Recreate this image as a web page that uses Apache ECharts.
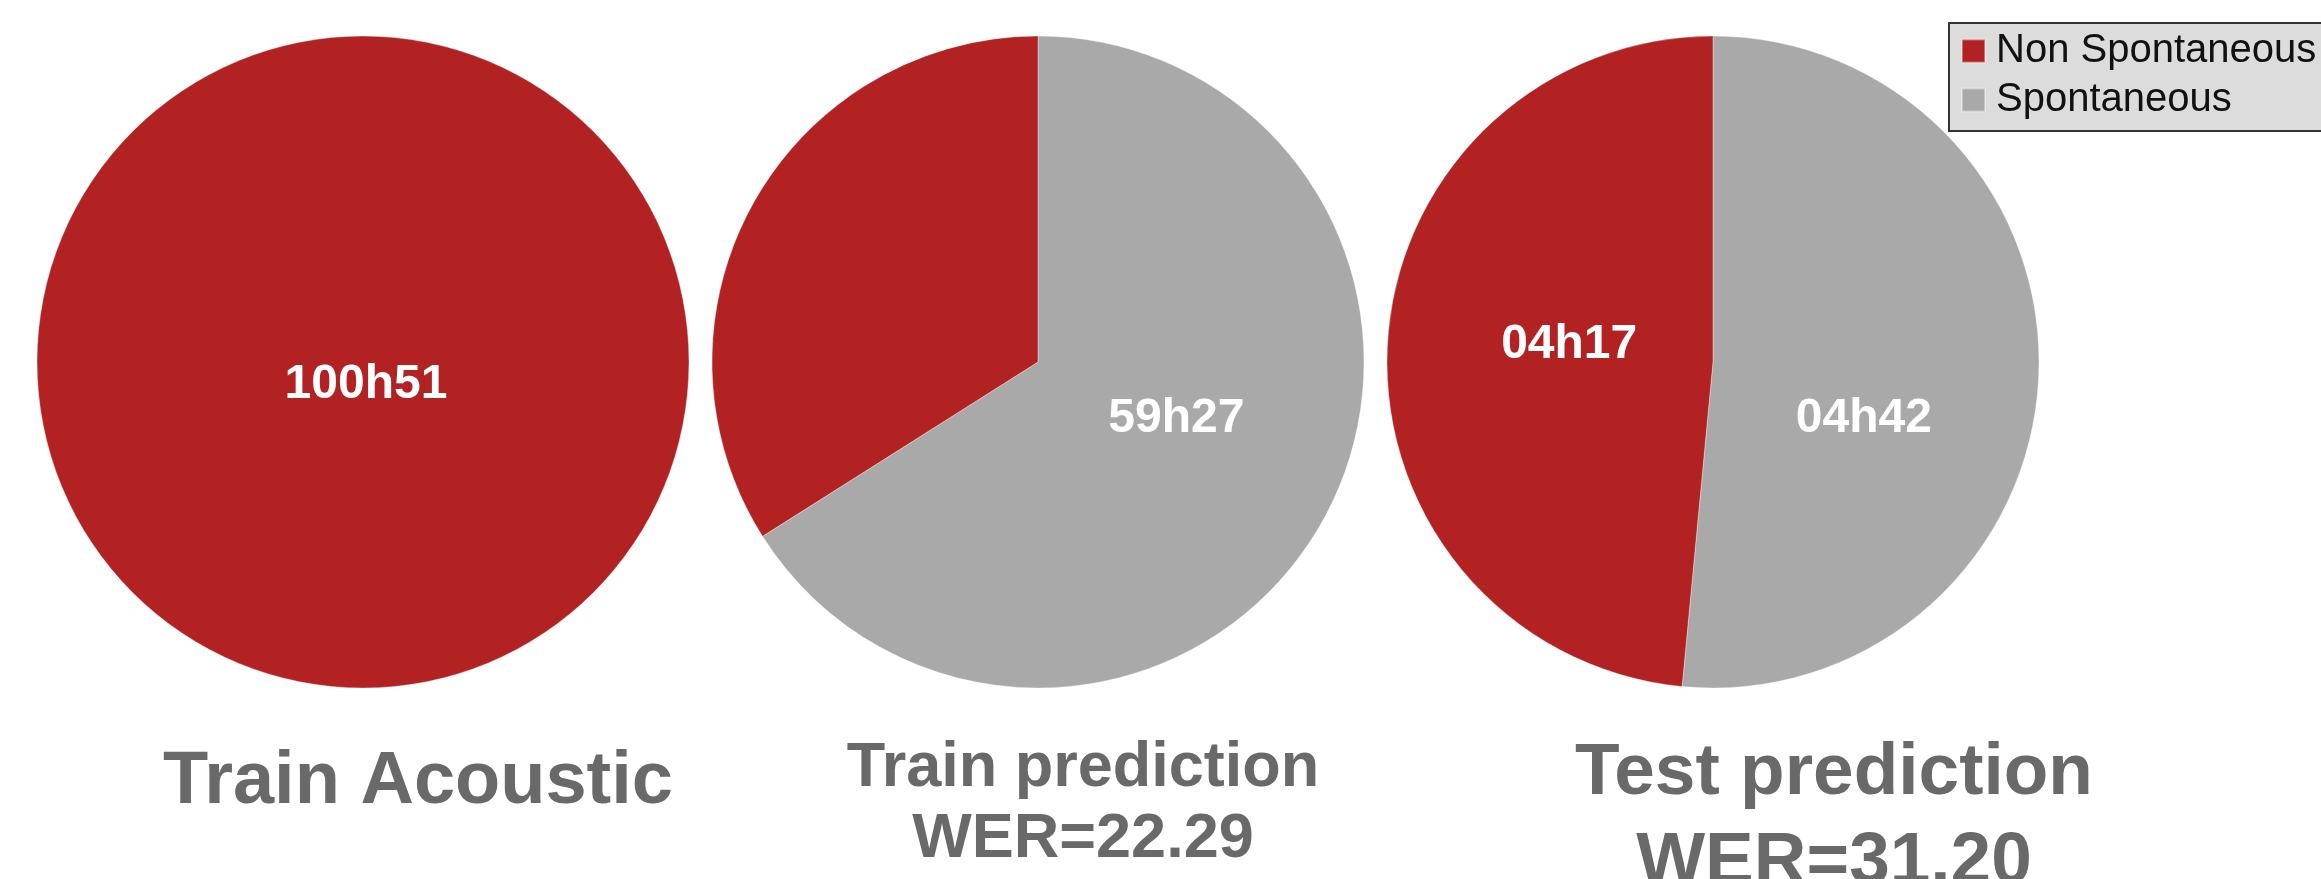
<!DOCTYPE html>
<html><head><meta charset="utf-8">
<script src="https://cdn.jsdelivr.net/npm/echarts@6/dist/echarts.min.js"></script>
<style>html,body{margin:0;padding:0;background:#fff}#c{width:2321px;height:879px}</style>
</head><body><div id="c"></div>
<script>
// Categories (legend order)
const categories = ['Non Spontaneous', 'Spontaneous'];
// Slice sizes in minutes as drawn, order: [Non Spontaneous, Spontaneous]
const trainAcoustic = [6051, 0];
const trainPrediction = [1836, 3567];
const testPrediction = [257, 273];
// Printed slice labels, order: [Non Spontaneous, Spontaneous] ('' = no label)
const trainAcousticLabels = ['100h51', ''];
const trainPredictionLabels = ['', '59h27'];
const testPredictionLabels = ['04h17', '04h42'];
// Chart captions
const chartTitles = ['Train Acoustic', 'Train prediction\nWER=22.29', 'Test prediction\nWER=31.20'];

const colors = { 'Non Spontaneous': '#b22222', 'Spontaneous': '#a9a9a9' };
const FONT = '"Liberation Sans", Arial, sans-serif';

// pies drawn clockwise from 12 o'clock: Spontaneous first, then Non Spontaneous
function buildData(vals, labels, centerLabel) {
  return [
    { name: categories[1], value: vals[1], itemStyle: { color: colors[categories[1]] },
      labelText: labels[1], label: { show: labels[1] !== '' } },
    { name: categories[0], value: vals[0], itemStyle: { color: colors[categories[0]] },
      labelText: labels[0],
      label: Object.assign({ show: labels[0] !== '' }, centerLabel ? { position: 'center' } : {}) }
  ];
}

const pieCenters = [[363, 362], [1038, 362], [1713, 362]];
const labelNudges = [
  { 1: [3, 23] },
  { 0: [-7, -23] },
  { 0: [-15, 49], 1: [22, -9] }
];
const datasets = [
  buildData(trainAcoustic, trainAcousticLabels, true),
  buildData(trainPrediction, trainPredictionLabels, false),
  buildData(testPrediction, testPredictionLabels, false)
];

const series = datasets.map((d, i) => ({
  type: 'pie',
  center: pieCenters[i],
  radius: 326,
  startAngle: 90,
  clockwise: true,
  avoidLabelOverlap: false,
  data: d,
  itemStyle: { borderColor: 'rgba(255,255,255,0.35)', borderWidth: 1 },
  label: {
    position: 'inside',
    formatter: p => p.data.labelText,
    color: '#ffffff',
    fontSize: 48,
    fontWeight: 'bold',
    fontFamily: FONT
  },
  labelLine: { show: false },
  labelLayout: p => {
    const n = labelNudges[i][p.dataIndex];
    return n ? { dx: n[0], dy: n[1] } : {};
  },
  emphasis: { disabled: true },
  silent: true
}));

const titleStyles = [
  { left: 418, top: 746, fontSize: 74, lineHeight: 74 },
  { left: 1083, top: 733, fontSize: 63, lineHeight: 71 },
  { left: 1834, top: 729, fontSize: 73, lineHeight: 89 }
];

const titles = chartTitles.map((t, i) => ({
  text: t,
  left: titleStyles[i].left,
  top: titleStyles[i].top,
  textAlign: 'center',
  padding: 0,
  textStyle: {
    color: '#696969',
    fontWeight: 'bold',
    fontFamily: FONT,
    fontSize: titleStyles[i].fontSize,
    lineHeight: titleStyles[i].lineHeight
  }
}));

const chart = echarts.init(document.getElementById('c'), null, { renderer: 'canvas' });
chart.setOption({
  animation: false,
  backgroundColor: '#ffffff',
  title: titles,
  legend: {
    data: categories,
    orient: 'vertical',
    left: 1949,
    top: 23,
    padding: [8, 40, 11, 12],
    backgroundColor: '#dcdcdc',
    borderColor: '#333333',
    borderWidth: 2,
    itemWidth: 23,
    itemHeight: 23,
    itemGap: 9,
    icon: 'rect',
    selectedMode: false,
    textStyle: {
      fontSize: 40,
      lineHeight: 40,
      color: '#111111',
      fontFamily: FONT,
      padding: [0, 0, 0, 6]
    }
  },
  series: series
});
</script>
</body></html>
